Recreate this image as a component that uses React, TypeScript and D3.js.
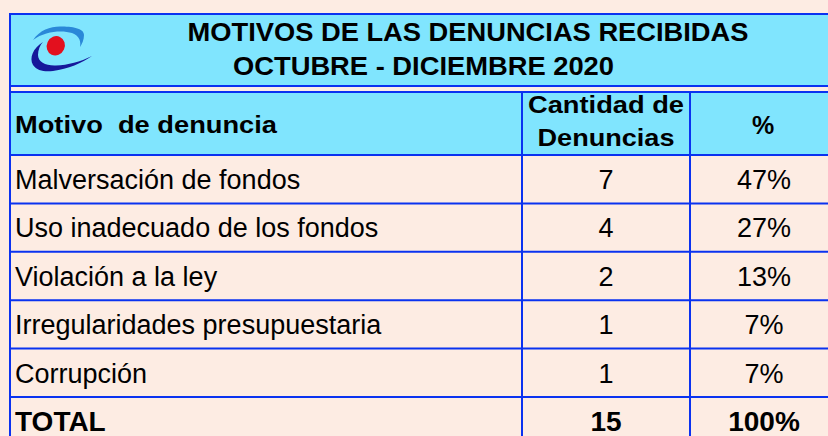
import React from "react";
import * as d3 from "d3";

// datos del cuadro
const titulo = ["MOTIVOS DE LAS DENUNCIAS RECIBIDAS", "OCTUBRE - DICIEMBRE 2020"];
const encabezados = ["Motivo  de denuncia", "Cantidad de", "Denuncias", "%"];
const motivos = [
  "Malversación de fondos",
  "Uso inadecuado de los fondos",
  "Violación a la ley",
  "Irregularidades presupuestaria",
  "Corrupción",
];
const cantidades = [7, 4, 2, 1, 1];
const porcentajes = [47, 27, 13, 7, 7];
const totalLabel = "TOTAL";
const totalCantidad = 15;
const totalPorcentaje = 100;

const W = 828;
const H = 436;
const CYAN = "#80e5fe";
const PEACH = "#fdece3";
const BLUE = "#0a32f0";
const FONT = "'Liberation Sans', Arial, sans-serif";

export default function App() {
  const filas = [...motivos, totalLabel];
  const y = d3.scaleBand<string>().domain(filas).range([155, 155 + 48.4 * filas.length]);
  const colX = d3.scaleOrdinal<string, number>().domain(["motivo", "cant", "pct"]).range([10, 522, 690]);
  const colRight = 838;
  const centro = (c: string) => (c === "cant" ? (522 + 690) / 2 : (690 + colRight) / 2);
  const fmtPct = (v: number) => d3.format("d")(v) + "%";

  return (
    <svg width={W} height={H} style={{ position: "absolute", left: 0, top: 0 }} fontFamily={FONT}>
      <rect x={0} y={0} width={W} height={H} fill={PEACH} />

      {/* banda del título */}
      <rect x={10} y={14} width={W} height={72} fill={CYAN} />
      <line x1={10} x2={W} y1={14} y2={14} stroke={BLUE} strokeWidth={2} />
      <line x1={10} x2={W} y1={86} y2={86} stroke={BLUE} strokeWidth={2} />

      {/* logo */}
      <g>
        <path d="M33,40 C40,30 50,26.5 60,26.5 C72,26.5 84,28 84,35 C84,40 82,44 80,47 C81,42 80,36 72,33 C62,30 45,31 33,40 Z" fill="#2a88d8" />
        <path d="M43,42 C33,48 29,58 33,65 C37,71 45,72 53,71 C68,69 82,63 92,56 C80,62 68,65 56,65.5 C46,66 38,62 38,55 C38,50 40,45 43,42 Z" fill="#16189a" />
        <ellipse cx={55.8} cy={45.8} rx={9} ry={9.8} transform="rotate(25 55.8 45.8)" fill="#e3101e" />
      </g>

      <text x={468} y={41} textAnchor="middle" fontSize={25} fontWeight="bold" textLength={561} lengthAdjust="spacingAndGlyphs">
        {titulo[0]}
      </text>
      <text x={423.5} y={75} textAnchor="middle" fontSize={25} fontWeight="bold" textLength={381} lengthAdjust="spacingAndGlyphs">
        {titulo[1]}
      </text>

      {/* encabezado */}
      <rect x={10} y={92} width={W} height={63} fill={CYAN} />
      <line x1={10} x2={W} y1={92} y2={92} stroke={BLUE} strokeWidth={2} />
      <text x={15} y={133} fontSize={24} fontWeight="bold" textLength={262} lengthAdjust="spacingAndGlyphs" xmlSpace="preserve">
        {encabezados[0]}
      </text>
      <text x={centro("cant")} y={113} textAnchor="middle" fontSize={24} fontWeight="bold" textLength={156} lengthAdjust="spacingAndGlyphs">
        {encabezados[1]}
      </text>
      <text x={centro("cant")} y={146} textAnchor="middle" fontSize={24} fontWeight="bold" textLength={137} lengthAdjust="spacingAndGlyphs">
        {encabezados[2]}
      </text>
      <text x={centro("pct") - 1} y={134} textAnchor="middle" fontSize={25} fontWeight="bold">
        {encabezados[3]}
      </text>

      {/* filas */}
      {filas.map((f, i) => {
        const top = y(f) as number;
        const esTotal = i === motivos.length;
        const cant = esTotal ? totalCantidad : cantidades[i];
        const pct = esTotal ? totalPorcentaje : porcentajes[i];
        return (
          <g key={f}>
            <line x1={10} x2={W} y1={top} y2={top} stroke={BLUE} strokeWidth={2} />
            <text x={15} y={top + (esTotal ? 34 : 34)} fontSize={esTotal ? 28 : 27} fontWeight={esTotal ? "bold" : "normal"}>
              {f}
            </text>
            <text x={centro("cant")} y={top + (esTotal ? 34 : 34)} textAnchor="middle" fontSize={esTotal ? 28 : 27} fontWeight={esTotal ? "bold" : "normal"}>
              {cant}
            </text>
            <text x={centro("pct")} y={top + (esTotal ? 34 : 34)} textAnchor="middle" fontSize={esTotal ? 28 : 27} fontWeight={esTotal ? "bold" : "normal"}>
              {fmtPct(pct)}
            </text>
          </g>
        );
      })}

      {/* líneas verticales */}
      <line x1={colX("motivo")} x2={colX("motivo")} y1={13} y2={H} stroke={BLUE} strokeWidth={2} />
      <line x1={colX("cant")} x2={colX("cant")} y1={92} y2={H} stroke={BLUE} strokeWidth={2} />
      <line x1={colX("pct")} x2={colX("pct")} y1={92} y2={H} stroke={BLUE} strokeWidth={2} />
    </svg>
  );
}
